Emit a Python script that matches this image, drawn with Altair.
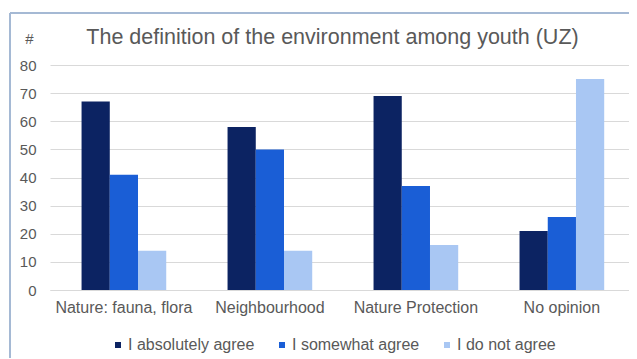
import altair as alt
import pandas as pd

categories = ["Nature: fauna, flora", "Neighbourhood", "Nature Protection", "No opinion"]
series = ["I absolutely agree", "I somewhat agree", "I do not agree"]
absolutely = [67, 58, 69, 21]
somewhat = [41, 50, 37, 26]
not_agree = [14, 14, 16, 75]
colors = ["#0c2362", "#1a5ed6", "#a9c7f3"]

rows = []
for i, c in enumerate(categories):
    for s, vals in zip(series, [absolutely, somewhat, not_agree]):
        rows.append({"category": c, "series": s, "value": vals[i]})
df = pd.DataFrame(rows)

FONT = "Liberation Sans"
GRAY = "#595959"

bars = alt.Chart(df).mark_bar().encode(
    x=alt.X("category:N", sort=categories,
            scale=alt.Scale(paddingInner=0.42, paddingOuter=0.193, align=0.56),
            axis=alt.Axis(title=None, labelAngle=0, labelFontSize=16, labelColor=GRAY,
                          labelFont=FONT, labelPadding=9, ticks=False,
                          domainColor="#d9d9d9", labelLimit=300)),
    xOffset=alt.XOffset("series:N", sort=series),
    y=alt.Y("value:Q", scale=alt.Scale(domain=[0, 80]),
            axis=alt.Axis(values=list(range(0, 81, 10)), title="#", titleAngle=0,
                          titleAlign="center", titleBaseline="middle",
                          titleX=-21, titleY=-27, titleFontSize=15, titleColor=GRAY,
                          titleFont=FONT, titleFontWeight="normal",
                          labelFontSize=15, labelColor=GRAY, labelFont=FONT,
                          labelPadding=14, ticks=False, domain=False,
                          gridColor="#d9d9d9")),
    color=alt.Color("series:N", sort=series,
                    scale=alt.Scale(domain=series, range=colors),
                    legend=alt.Legend(title=None, orient="none", direction="horizontal",
                                      legendX=60, legendY=272,
                                      symbolType="square", symbolSize=36,
                                      labelFontSize=16, labelColor=GRAY, labelFont=FONT,
                                      columnPadding=19, labelOffset=2,
                                      symbolStrokeWidth=0)),
)

frame_left = alt.Chart().mark_rule(color="#a5b9d4", strokeWidth=2).encode(
    x=alt.value(-40), y=alt.value(-52), y2=alt.value(300))
frame_top = alt.Chart().mark_rule(color="#a5b9d4", strokeWidth=2).encode(
    x=alt.value(-40), x2=alt.value(600), y=alt.value(-52))

chart = alt.layer(bars, frame_left, frame_top).properties(
    width=579, height=225,
    autosize=alt.AutoSizeParams(type="none"),
    padding={"left": 42, "top": 57, "right": 0, "bottom": 68},
    title=alt.TitleParams("The definition of the environment among youth (UZ)",
                          fontSize=21.5, font=FONT, color=GRAY, fontWeight="normal",
                          anchor="middle", offset=18, dy=54, dx=-7),
).configure_view(stroke=None)

chart.save("out.html", embed_options={"renderer": "svg", "actions": False})
